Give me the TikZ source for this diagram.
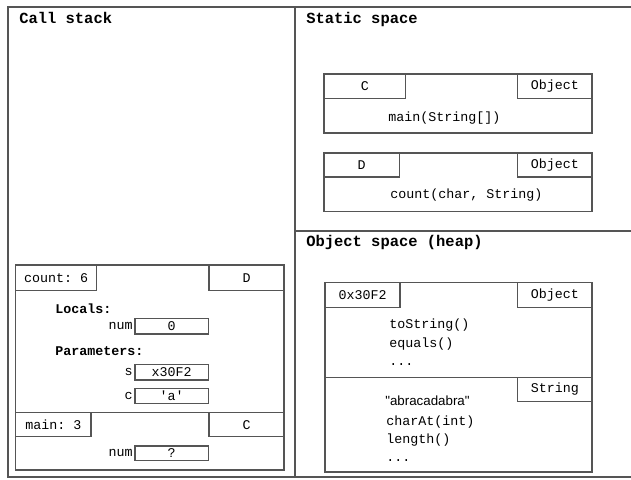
\documentclass[tikz,border=0pt]{standalone}
\usepackage{fontspec}
\setmonofont{Liberation Mono}
\newfontfamily\sansf{Liberation Sans}
\usetikzlibrary{fit}
\definecolor{frame}{HTML}{555555}
\begin{document}
\begin{tikzpicture}[x=0.75pt,y=-0.75pt,
  frameline/.style={draw=frame, line width=1.1pt},
  box/.style={draw=frame, line width=1pt, inner sep=0pt, fill=white},
  t/.style={font=\ttfamily\fontsize{10}{12}\selectfont, inner sep=0pt},
  tl/.style={t, anchor=base west},
  tb/.style={font=\ttfamily\bfseries\fontsize{10}{12}\selectfont, inner sep=0pt, anchor=base west},
  ttl/.style={font=\ttfamily\bfseries\fontsize{11.6}{14}\selectfont, inner sep=0pt, anchor=base west}]
\useasboundingbox (0,0) rectangle (631,479);
\fill[white] (0,0) rectangle (631,479);
% outer frame and dividers
\coordinate (tl) at (8,7);
\coordinate (tr) at (631,7);
\coordinate (bl) at (8,477);
\coordinate (br) at (631,477);
\coordinate (mt) at (295,7);
\coordinate (mb) at (295,477);
\coordinate (hl) at (295,231);
\coordinate (hr) at (631,231);
\draw[frameline] (tr) -- (tl) -- (bl) -- (br);
\draw[frameline] (mt) -- (mb);
\draw[frameline] (hl) -- (hr);
% titles
\node[ttl] (callstack) at (19,23) {Call stack};
\node[ttl] (static) at (306,23) {Static space};
\node[ttl] (heap) at (306,246) {Object space (heap)};

% static space: class C
\node[box, fit={(324,74)(592,133)}] (Cclass) {};
\node[box, fit={(324,74)(405.7,98.7)}] (Cname) {};
\node[t] at (Cname.center) {C};
\node[box, fit={(517.7,74)(592,98.7)}] (Csuper) {};
\node[t] at (Csuper.center) {Object};
\node[t, anchor=west] (Cmain) at (388,118) {main(String[])};
% class D
\node[box, fit={(324,153)(592,211.7)}] (Dclass) {};
\node[box, fit={(324,153)(399.3,177)}] (Dname) {};
\node[t] at (Dname.center) {D};
\node[box, fit={(517.7,153)(592,177)}] (Dsuper) {};
\node[t] at (Dsuper.center) {Object};
\node[t, anchor=west] (Dcount) at (390,195) {count(char, String)};

% heap object
\node[box, fit={(325,282.7)(592,472)}] (obj) {};
\node[box, fit={(325,282.7)(400,307.7)}] (addr) {};
\node[t] at (addr.center) {0x30F2};
\node[box, fit={(517.7,282.7)(592,307.7)}] (objsuper) {};
\node[t] at (objsuper.center) {Object};
\coordinate (divl) at (325,377.3);
\coordinate (divr) at (592,377.3);
\draw[draw=frame, line width=1pt] (divl) -- (divr);
\node[box, fit={(517.7,377.3)(592,401.7)}] (strsuper) {};
\node[t] at (strsuper.center) {String};
\node[tl] (m1) at (389,328) {toString()};
\node[tl] (m2) at (389,347.3) {equals()};
\node[tl] (m3) at (389,365.5) {...};
\node[font=\sansf\fontsize{10}{12}\selectfont, inner sep=0pt, anchor=base west] (s0) at (385,405) {"abracadabra"};
\node[tl] (s1) at (386,425) {charAt(int)};
\node[tl] (s2) at (386,443.3) {length()};
\node[tl] (s3) at (386,461.7) {...};

% call stack: count frame
\node[box, fit={(15.7,265)(284,412.7)}] (countframe) {};
\node[box, fit={(15.7,265)(96.7,290.7)}] (countname) {};
\node[t] at (countname.center) {count: 6};
\node[box, fit={(209,265)(284,290.7)}] (countcls) {};
\node[t] at (countcls.center) {D};
\node[tb] (locals) at (55,313) {Locals:};
\node[box, fit={(135,318.3)(208.3,334)}] (numval) {};
\node[t] at (numval.center) {0};
\node[t, anchor=east] (numlbl) at (133,326.2) {num};
\node[tb] (params) at (55,355) {Parameters:};
\node[box, fit={(135,364.3)(208.3,380)}] (sval) {};
\node[t] at (sval.center) {x30F2};
\node[t, anchor=east] (slbl) at (133,372.2) {s};
\node[box, fit={(135,388.3)(208.3,403.3)}] (cval) {};
\node[t] at (cval.center) {'a'};
\node[t, anchor=east] (clbl) at (133,395.8) {c};
% main frame
\node[box, fit={(15.7,412.7)(284,470)}] (mainframe) {};
\node[box, fit={(15.7,412.7)(91,436.7)}] (mainname) {};
\node[t] at (mainname.center) {main: 3};
\node[box, fit={(209,412.7)(284,436.7)}] (maincls) {};
\node[t] at (maincls.center) {C};
\node[box, fit={(135,446)(208.3,460.7)}] (mnumval) {};
\node[t] at (mnumval.center) {?};
\node[t, anchor=east] (mnumlbl) at (133,453.3) {num};
\end{tikzpicture}
\end{document}
